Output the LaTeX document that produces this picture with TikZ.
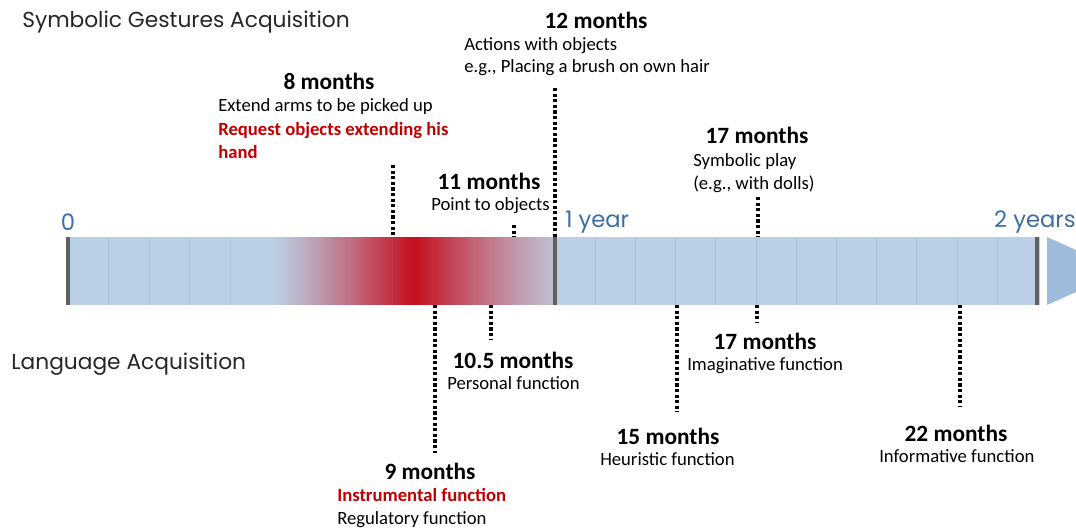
\documentclass[tikz,border=0pt]{standalone}
\usepackage{fontspec}
\setmainfont{Carlito}
\newfontfamily\pop{Poppins}
\definecolor{barblue}{HTML}{BBD0E6}
\definecolor{tickblue}{HTML}{A6BFDA}
\definecolor{markgray}{HTML}{606060}
\definecolor{arrowblue}{HTML}{9DBCDC}
\definecolor{axisblue}{HTML}{3D6DA3}
\definecolor{dred}{HTML}{C00000}
\definecolor{gradred}{HTML}{C41020}
\definecolor{gradend}{HTML}{C0BCD0}
\definecolor{titlegray}{HTML}{262626}
\begin{document}
\begin{tikzpicture}[x=0.75pt,y=-0.75pt,
  head/.style={font=\fontsize{17.5}{20}\selectfont\bfseries, inner sep=0, anchor=center},
  body/.style={font=\fontsize{14}{17}\selectfont, inner sep=0, anchor=west, text height=10pt, text depth=3pt},
  redbody/.style={body, text=dred, font=\fontsize{14}{17}\selectfont\bfseries},
  dline/.style={line width=2.4pt, dash pattern=on 2.4pt off 1.8pt},
  axislabel/.style={font=\pop\fontsize{17}{20}\selectfont, text=axisblue, inner sep=0},
  title/.style={font=\pop\fontsize{16.3}{19}\selectfont, text=titlegray, inner sep=0, anchor=west},
  marker/.style={markgray, line width=3pt},
  tick/.style={tickblue, line width=0.6pt, opacity=0.7},
  ftick/.style={black!40, line width=0.6pt, opacity=0.12}
]
\useasboundingbox (0,0) rectangle (1076,532);
\begin{scope}
\clip (0,0) rectangle (1076,532);
% bar
\fill[barblue] (67,237) rectangle (1040,305);
\foreach \k in {1,...,11} \draw[tick] (68+40.6*\k,237) -- ++(0,68);
\foreach \k in {1,...,11} \draw[tick] (555+40.2*\k,237) -- ++(0,68);
% red gradient (strips)
\foreach \i in {0,...,59} {
  \pgfmathsetmacro\p{100*(\i/59)^1.15}
  \fill[gradred!\p!barblue] (271+\i*143/60,237) rectangle ++(143/60+0.4,68);
}
\foreach \i in {0,...,59} {
  \pgfmathsetmacro\p{100*(1-\i/59)^1.15}
  \fill[gradred!\p!gradend] (414+\i*139/60,237) rectangle ++(139/60+0.4,68);
}
\foreach \k in {6,...,11} \draw[ftick] (68+40.6*\k,237) -- ++(0,68);
\draw[marker] (68,237) -- (68,305);
\draw[marker] (555,237) -- (555,305);
\draw[marker] (1037,237) -- (1037,305);
\fill[arrowblue] (1047,237) -- (1123,271) -- (1047,305) -- cycle;
\end{scope}

% axis labels
\node[axislabel, anchor=center] (a0) at (68,222) {0};
\node[axislabel, anchor=west] (a1) at (565,222) {1 year};
\node[axislabel, anchor=east] (a2) at (1076,222) {2 years};

% titles
\node[title] (t1) at (22,22) {Symbolic Gestures Acquisition};
\node[title] (t2) at (11,364) {Language Acquisition};

% --- upper events ---
\node[head] (h12) at (596,20) {12 months};
\node[body] (b12a) at (464,46) {Actions with objects};
\node[body] (b12b) at (464,68) {e.g., Placing a brush on own hair};

\node[head] (h8) at (329,81) {8 months};
\node[body] (b8a) at (218,107) {Extend arms to be picked up};
\node[redbody] (b8b) at (218,131) {Request objects extending his};
\node[redbody] (b8c) at (218,154) {hand};

\node[head] (h11) at (489,181) {11 months};
\node[body] (b11a) at (431,206) {Point to objects};

\node[head] (h17u) at (757,135) {17 months};
\node[body] (b17ua) at (693,162) {Symbolic play};
\node[body] (b17ub) at (693,185) {(e.g., with dolls)};

% --- lower events ---
\node[head] (h9) at (430,471) {9 months};
\node[redbody] (b9a) at (337,497) {Instrumental function};
\node[body] (b9b) at (337,520) {Regulatory function};

\node[head] (h105) at (513,360) {10.5 months};
\node[body] (b105) at (447,385) {Personal function};

\node[head] (h15) at (668,436) {15 months};
\node[body] (b15) at (600,461) {Heuristic function};

\node[head] (h17l) at (765,341) {17 months};
\node[body] (b17l) at (687,366) {Imaginative function};

\node[head] (h22) at (956,433) {22 months};
\node[body] (b22) at (879,458) {Informative function};

% connector end points
\coordinate (u8a) at (393,165);  \coordinate (u8b) at (393,237);
\coordinate (u11a) at (514,225); \coordinate (u11b) at (514,237);
\coordinate (u12a) at (555,88);  \coordinate (u12b) at (555,237);
\coordinate (u17a) at (758,197); \coordinate (u17b) at (758,237);
\coordinate (l9a) at (435,305);  \coordinate (l9b) at (435,453);
\coordinate (l105a) at (491,305); \coordinate (l105b) at (491,340);
\coordinate (l15a) at (677,305); \coordinate (l15b) at (677,412);
\coordinate (l17a) at (757,305); \coordinate (l17b) at (757,322);
\coordinate (l22a) at (960,305); \coordinate (l22b) at (960,407);

\draw[dline] (u8a) -- (u8b);
\draw[dline] (u11a) -- (u11b);
\draw[dline] (u12a) -- (u12b);
\draw[dline] (u17a) -- (u17b);
\draw[dline] (l9a) -- (l9b);
\draw[dline] (l105a) -- (l105b);
\draw[dline] (l15a) -- (l15b);
\draw[dline] (l17a) -- (l17b);
\draw[dline] (l22a) -- (l22b);
\end{tikzpicture}
\end{document}
